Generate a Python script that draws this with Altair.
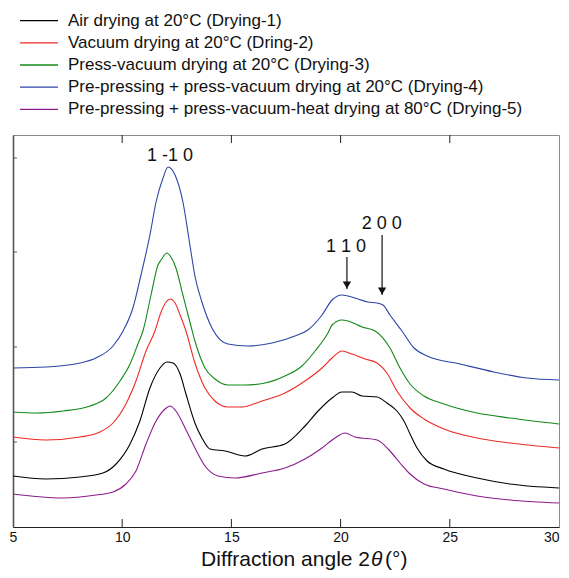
import altair as alt
import pandas as pd

SERIES = [
    "Air drying at 20°C (Drying-1)",
    "Vacuum drying at 20°C (Dring-2)",
    "Press-vacuum drying at 20°C (Drying-3)",
    "Pre-pressing + press-vacuum drying at 20°C (Drying-4)",
    "Pre-pressing + press-vacuum-heat drying at 80°C (Drying-5)",
]
COLORS = ["#000000", "#ee2b24", "#14891c", "#2d45a6", "#8d1b8d"]

# Drying-1 (black)
d1_x = [5.0, 6.5, 8.07, 9.12, 9.72, 10.36, 10.81, 11.27, 11.73, 12.05, 12.33, 12.65, 12.92, 13.33, 13.65,
        14.02, 14.71, 15.62, 16.4, 17.45, 18.37, 18.97, 19.61, 20.06, 20.52, 20.98, 21.67, 22.12, 22.58,
        22.9, 23.18, 23.5, 23.96, 24.73, 26.25, 27.76, 30.0]
d1_y = [51, 48, 50, 54, 63, 83, 106, 139, 159, 165, 164, 153, 133, 104, 89,
        78, 76, 71, 78, 83, 101, 116, 129, 135, 135, 131, 130, 124, 116,
        106, 93, 79, 66, 58, 49, 43, 39]

# Drying-2 (red)
d2_x = [5.0, 6.51, 8.07, 8.98, 9.58, 10.17, 10.63, 11.09, 11.5, 11.78, 12.01, 12.19, 12.42, 12.65, 12.92,
        13.33, 13.79, 14.25, 14.84, 15.49, 16.4, 17.45, 18.37, 19.15, 19.61, 20.06, 20.52, 21.12, 21.67,
        22.12, 22.58, 23.18, 23.82, 24.73, 26.25, 27.76, 30.0]
d2_y = [90, 87, 90, 95, 104, 123, 146, 176, 196, 215, 225, 228, 224, 212, 196,
        164, 139, 126, 120, 120, 126, 134, 146, 159, 169, 176, 173, 168, 164,
        154, 136, 119, 108, 98, 89, 84, 79]

# Drying-3 (green)
d3_x = [5.0, 6.07, 7.29, 8.53, 9.26, 9.9, 10.36, 10.72, 10.95, 11.32, 11.64, 11.78, 12.05, 12.23, 12.46,
        12.78, 13.1, 13.33, 13.79, 14.25, 14.84, 15.62, 16.54, 17.45, 18.23, 18.83, 19.42, 19.61, 20.06,
        20.34, 20.98, 21.58, 22.26, 22.72, 23.18, 23.82, 24.73, 26.25, 27.76, 30.0]
d3_y = [115, 114, 116, 121, 129, 146, 163, 183, 196, 232, 262, 267, 274, 270, 259,
        232, 205, 186, 159, 148, 142, 142, 144, 151, 161, 176, 194, 202, 207,
        206, 200, 196, 179, 159, 143, 131, 123, 114, 109, 103]

# Drying-4 (blue)
d4_x = [5.0, 6.5, 8.07, 8.8, 9.58, 10.04, 10.49, 10.86, 11.27, 11.55, 11.87, 12.1, 12.42, 12.78, 13.1,
        13.33, 13.65, 14.11, 14.84, 15.76, 16.86, 17.91, 18.5, 19.15, 19.61, 20.06, 20.34, 20.8, 21.25,
        21.67, 21.94, 22.26, 22.81, 23.36, 23.96, 25.47, 27.02, 28.53, 30.0]
d4_y = [159, 160, 164, 169, 181, 196, 219, 252, 292, 325, 349, 360, 352, 325, 282,
        251, 225, 199, 183, 181, 184, 191, 197, 212, 227, 232, 231, 228, 225,
        224, 222, 212, 196, 179, 171, 163, 155, 149, 147]

# Drying-5 (purple)
d5_x = [5.0, 7.29, 8.8, 9.58, 10.17, 10.63, 11.09, 11.55, 11.96, 12.19, 12.46, 12.88, 13.33, 13.79, 14.39,
        15.16, 16.4, 17.45, 18.37, 19.15, 19.74, 20.2, 20.66, 21.67, 22.26, 22.72, 23.18, 23.82, 24.73,
        26.25, 27.76, 30.0]
d5_y = [33, 29, 32, 35, 43, 56, 83, 106, 118, 121, 116, 99, 79, 61, 51,
        49, 54, 59, 68, 79, 89, 94, 90, 87, 76, 64, 53, 43, 38,
        31, 27, 24]

# peak labels and arrows
peak_labels = ["1 -1 0", "1 1 0", "2 0 0"]
peak_label_x = [12.19, 20.25, 21.88]
peak_label_y = [371, 280, 303]
arrow_x = [20.29, 21.9]
arrow_top = [270, 292]
arrow_tip = [238, 232]

x_tick_vals = [10, 15, 20, 25]
x_label_vals = [5, 10, 15, 20, 25, 30]
y_tick_vals = [85, 180, 275, 369]

TITLE_PARTS = ["Diffraction angle 2", "θ", "(°)"]

Y_MAX = 392
W, H = 546, 392
FONT = "Liberation Sans"

rows = []
for name, xs, ys in zip(SERIES, [d1_x, d2_x, d3_x, d4_x, d5_x], [d1_y, d2_y, d3_y, d4_y, d5_y]):
    for a, b in zip(xs, ys):
        rows.append({"angle": a, "intensity": b, "series": name})
df = pd.DataFrame(rows)

xscale = alt.Scale(domain=[5, 30], nice=False, zero=False)
yscale = alt.Scale(domain=[0, Y_MAX], nice=False, zero=False)
cscale = alt.Scale(domain=SERIES, range=COLORS)

lines = alt.Chart(df).mark_line(strokeWidth=1.1, interpolate="monotone").encode(
    x=alt.X("angle:Q", scale=xscale,
            axis=alt.Axis(values=x_label_vals, format="d", ticks=False, grid=False,
                          labelFontSize=14, labelFont=FONT, labelColor="#111", labelPadding=3,
                          labelFlush=False,
                          labelAlign={"condition": {"test": "datum.value >= 30", "value": "right"},
                                      "value": "center"},
                          domainColor="#222", domainWidth=1.2, title=None)),
    y=alt.Y("intensity:Q", scale=yscale,
            axis=alt.Axis(labels=False, ticks=False, grid=False, title=None,
                          domainColor="#555", domainWidth=1.6)),
    color=alt.Color("series:N", scale=cscale, legend=None),
    detail="series:N",
)

tick_df = pd.DataFrame({"t": x_tick_vals})
ticks_bottom = alt.Chart(tick_df).mark_rule(color="#222", strokeWidth=1).encode(
    x="t:Q", y=alt.datum(0), y2=alt.datum(8))
ticks_top = alt.Chart(tick_df).mark_rule(color="#222", strokeWidth=1).encode(
    x="t:Q", y=alt.datum(Y_MAX - 8), y2=alt.datum(Y_MAX))
ytick_df = pd.DataFrame({"v": y_tick_vals})
ticks_left = alt.Chart(ytick_df).mark_rule(color="#555", strokeWidth=1).encode(
    y="v:Q", x=alt.datum(5), x2=alt.datum(5.18))

lab_df = pd.DataFrame({"label": peak_labels, "x": peak_label_x, "y": peak_label_y})
labels = alt.Chart(lab_df).mark_text(font=FONT, fontSize=18, color="#111", baseline="middle", align="center").encode(
    x="x:Q", y="y:Q", text="label:N")

arr_df = pd.DataFrame({"x": arrow_x, "top": arrow_top, "tip": arrow_tip})
shafts = alt.Chart(arr_df).mark_rule(color="#111", strokeWidth=1.2).encode(
    x="x:Q", y="top:Q", y2="tip:Q")
heads = alt.Chart(arr_df).mark_point(shape="triangle-down", filled=True, size=70, color="#111", opacity=1).encode(
    x="x:Q", y=alt.Y("tip:Q"), yOffset=alt.value(-4))

one = pd.DataFrame({"k": [0]})
TITLE_Y = 430.5
TITLE_SIZE = 21
title1 = alt.Chart(one).mark_text(text=TITLE_PARTS[0], font=FONT, fontSize=TITLE_SIZE, color="#111",
                                  align="right", baseline="alphabetic").encode(
    x=alt.value(357), y=alt.value(TITLE_Y))
title2 = alt.Chart(one).mark_text(text=TITLE_PARTS[1], font=FONT, fontSize=TITLE_SIZE, fontStyle="italic", color="#111",
                                  align="left", baseline="alphabetic").encode(
    x=alt.value(358), y=alt.value(TITLE_Y))
title3 = alt.Chart(one).mark_text(text=TITLE_PARTS[2], font=FONT, fontSize=TITLE_SIZE, color="#111",
                                  align="left", baseline="alphabetic").encode(
    x=alt.value(372), y=alt.value(TITLE_Y))

main = alt.layer(lines, ticks_bottom, ticks_top, ticks_left, labels, shafts, heads, title1, title2, title3)

leg_df = pd.DataFrame({"series": SERIES})
leg_y = alt.Y("series:N", scale=alt.Scale(domain=SERIES, range=[-125.5, -14.5]), axis=None)
leg_rules = alt.Chart(leg_df).mark_rule(strokeWidth=1.3).encode(
    y=leg_y, x=alt.value(7), x2=alt.value(45),
    color=alt.Color("series:N", scale=cscale, legend=None))
leg_text = alt.Chart(leg_df).mark_text(font=FONT, fontSize=17, color="#111", align="left", baseline="middle").encode(
    y=leg_y, x=alt.value(55), text="series:N")
legend = alt.layer(leg_rules, leg_text)

chart = alt.layer(main, legend).resolve_scale(y="independent").properties(
    width=W, height=H,
    background="white",
    autosize=alt.AutoSizeParams(type="none"),
    padding={"left": 5, "top": 127, "right": 2, "bottom": 43},
).configure_view(stroke="#8a8a8a", strokeWidth=1)

chart.save("out.html", embed_options={"renderer": "svg", "actions": False})
